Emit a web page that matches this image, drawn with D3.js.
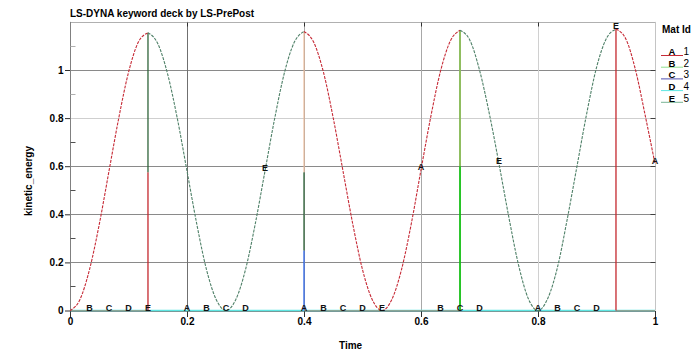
<!DOCTYPE html>
<html><head><meta charset="utf-8">
<script src="https://cdn.jsdelivr.net/npm/d3@7/dist/d3.min.js"></script>
<style>
body{margin:0;background:#fff;}
svg{display:block;font-family:"Liberation Sans",Arial,sans-serif;}
</style></head><body>
<svg id="chart" width="700" height="361"></svg>
<script>
// ---------- data ----------
const title = "LS-DYNA keyword deck by LS-PrePost";
const xLabel = "Time";
const yLabel = "kinetic_energy";
const legendTitle = "Mat Id";
const matIds = [1, 2, 3, 4, 5];
const matLetters = ["A", "B", "C", "D", "E"];
const xTicks = [0, 0.2, 0.4, 0.6, 0.8, 1];
const xTickLabels = ["0", "0.2", "0.4", "0.6", "0.8", "1"];
const yTicks = [0, 0.2, 0.4, 0.6, 0.8, 1];
const yTickLabels = ["0", "0.2", "0.4", "0.6", "0.8", "1"];
const yMinorTicks = [0.1, 0.3, 0.5, 0.7, 0.9, 1.1];
const timeStep = 1 / 60;
// kinetic energy read at each output step
const energy = [
  0, 0.044, 0.17, 0.358, 0.58, 0.8, 0.99, 1.115, 1.155,
  1.11, 0.985, 0.8, 0.58, 0.36, 0.17, 0.045, 0,
  0.045, 0.17, 0.36, 0.58, 0.8, 0.99, 1.115, 1.16,
  1.115, 0.99, 0.8, 0.58, 0.36, 0.17, 0.045, 0,
  0.045, 0.17, 0.36, 0.585, 0.805, 0.995, 1.12, 1.165,
  1.125, 1.0, 0.82, 0.61, 0.39, 0.19, 0.05, 0,
  0.05, 0.18, 0.38, 0.6, 0.82, 1.01, 1.13, 1.17,
  1.13, 1.0, 0.81, 0.61
];
// output-step windows in which each material carries the energy
const activeWindows = {
  1: [[0, 8], [24, 40], [56, 60]],
  2: [],
  3: [],
  4: [],
  5: [[8, 24], [40, 56]]
};
const zeroWindows = {
  1: [[8, 24], [40, 56]],
  2: [[0, 60]],
  3: [[0, 60]],
  4: [[0, 60]],
  5: [[0, 8], [24, 40], [56, 60]]
};
// vertical jumps: [time, from, to, material]
const jumps = [
  [0.1333, 0, 0.575, 1],
  [0.1333, 0.575, 1.155, 5],
  [0.4, 0, 0.25, 3],
  [0.4, 0.25, 0.575, 5],
  [0.4, 0.575, 1.16, 1],
  [0.6667, 0, 1.165, 2],
  [0.6667, 0.6, 1.165, 1],
  [0.9333, 0, 1.17, 1]
];
const labelOffsets = [0, 0.0333, 0.0667, 0.1, 0.1333];
const labelSpacing = 0.2;

// ---------- drawing ----------
const svg = d3.select("#chart");
const x = d3.scaleLinear().domain([0, 1]).range([70, 655]);
const y = d3.scaleLinear().domain([0, 1.2]).range([310.5, 21.9]);
const crisp = v => Math.round(v) + 0.5;

const curveColor = {1: "#c62a36", 2: "#7fdc7f", 3: "#4a4aa8", 4: "#5ee6e2", 5: "#4f8068"};
const legendColor = {1: "#c62a36", 2: "#8fe08f", 3: "#5050b0", 4: "#5ee6e2", 5: "#78b494"};
const zeroColor = {1: "#c62a36", 2: "#8fe08f", 3: "#5050b0", 4: "#5ee6e2", 5: "#8aa898"};

svg.append("rect").attr("width", 700).attr("height", 361).attr("fill", "#fff");

// grid
const hGridColor = v => (Math.abs(v - 0.8) < 1e-6 ? "#cfcfcf" : "#8a8a8a");
const vGridColor = v => (Math.abs(v - 0.2) < 1e-6 ? "#707070" : Math.abs(v - 0.8) < 1e-6 ? "#d0d0d0" : "#a8a8a8");
svg.append("g").selectAll("line").data(yTicks.filter(d => d > 0)).join("line")
  .attr("x1", 70).attr("x2", 655)
  .attr("y1", d => crisp(y(d))).attr("y2", d => crisp(y(d)))
  .attr("stroke", hGridColor).attr("stroke-width", 1);
svg.append("g").selectAll("line").data(xTicks.filter(d => d > 0 && d < 1)).join("line")
  .attr("y1", y(1.2)).attr("y2", y(0))
  .attr("x1", d => crisp(x(d))).attr("x2", d => crisp(x(d)))
  .attr("stroke", vGridColor).attr("stroke-width", 1);

// frame
svg.append("line").attr("x1", 70).attr("x2", 655).attr("y1", crisp(y(1.2))).attr("y2", crisp(y(1.2))).attr("stroke", "#b0b0b0");
svg.append("line").attr("x1", crisp(x(1))).attr("x2", crisp(x(1))).attr("y1", y(1.2)).attr("y2", y(0)).attr("stroke", "#c4c4c4");
svg.append("line").attr("x1", crisp(x(0))).attr("x2", crisp(x(0))).attr("y1", y(1.2)).attr("y2", y(0)).attr("stroke", "#808080");
svg.append("line").attr("x1", 70).attr("x2", 655).attr("y1", crisp(y(0))).attr("y2", crisp(y(0))).attr("stroke", "#808080");

// minor ticks (inside left)
svg.append("g").selectAll("line").data(yMinorTicks).join("line")
  .attr("x1", crisp(x(0))).attr("x2", crisp(x(0)) + 5)
  .attr("y1", d => crisp(y(d))).attr("y2", d => crisp(y(d)))
  .attr("stroke", d => (d > 0.8 ? "#b0b0b0" : "#505050"));
// right inward ticks
svg.append("g").selectAll("line").data(yTicks.filter(d => d > 0)).join("line")
  .attr("x1", crisp(x(1)) - 5).attr("x2", crisp(x(1)))
  .attr("y1", d => crisp(y(d))).attr("y2", d => crisp(y(d)))
  .attr("stroke", "#404040");
// top inward ticks
svg.append("g").selectAll("line").data(xTicks.filter(d => d > 0 && d < 1)).join("line")
  .attr("y1", crisp(y(1.2))).attr("y2", crisp(y(1.2)) + 4)
  .attr("x1", d => crisp(x(d))).attr("x2", d => crisp(x(d)))
  .attr("stroke", "#303030");

// axes
const xAxis = d3.axisBottom(x).tickValues(xTicks).tickFormat((d, i) => xTickLabels[i]).tickSize(6).tickPadding(1);
const gx = svg.append("g").attr("transform", `translate(0,${Math.round(y(0))})`).call(xAxis);
gx.select(".domain").remove();
gx.selectAll(".tick line").attr("stroke", "#303030");
gx.selectAll(".tick text").attr("font-size", 10).attr("font-weight", "bold").attr("fill", "#000")
  .attr("font-family", "Liberation Sans, Arial, sans-serif");

const yAxis = d3.axisLeft(y).tickValues(yTicks).tickFormat((d, i) => yTickLabels[i]).tickSize(5).tickPadding(1.5);
const gy = svg.append("g").attr("transform", `translate(${Math.round(x(0))},0)`).call(yAxis);
gy.select(".domain").remove();
gy.selectAll(".tick line").attr("stroke", "#303030");
gy.selectAll(".tick text").attr("font-size", 10).attr("font-weight", "bold").attr("fill", "#000")
  .attr("font-family", "Liberation Sans, Arial, sans-serif");

// curves
const line = d3.line().x(d => x(d[0])).y(d => y(d[1])).curve(d3.curveMonotoneX);
const seg = (win, zero) => d3.range(win[0], win[1] + 1).map(k => [k * timeStep, zero ? 0 : energy[k]]);

matIds.forEach(m => {
  zeroWindows[m].forEach(w => {
    svg.append("path").attr("d", line(seg(w, true))).attr("fill", "none")
      .attr("stroke", zeroColor[m]).attr("stroke-width", m === 4 ? 1.4 : 1.1);
  });
});

const jumpColor = (m, lo) => m === 1 ? (lo > 0 ? "#eeb894" : "#c4282e") : m === 5 ? "#2f643a" : m === 2 ? "#14bf14" : "#2c64e8";
svg.append("g").selectAll("line").data(jumps).join("line")
  .attr("x1", d => x(d[0])).attr("x2", d => x(d[0]))
  .attr("y1", d => y(d[1])).attr("y2", d => y(d[2]))
  .attr("stroke", d => jumpColor(d[3], d[1]))
  .attr("stroke-opacity", d => (d[3] === 1 && d[1] > 0 ? 0.8 : 1))
  .attr("stroke-width", d => (d[3] === 2 ? 1.8 : 1.3));

matIds.forEach(m => {
  activeWindows[m].forEach(w => {
    svg.append("path").attr("d", line(seg(w, false))).attr("fill", "none")
      .attr("stroke", curveColor[m]).attr("stroke-width", 1.1)
      .attr("stroke-dasharray", "3,1.2");
  });
});

// curve labels
const valueAt = (m, t) => {
  const k = Math.round(t / timeStep);
  const on = activeWindows[m].some(w => k > w[0] && k <= w[1]) || (k === 0 && activeWindows[m].some(w => w[0] === 0));
  return on ? energy[k] : 0;
};
matIds.forEach((m, i) => {
  const pts = d3.range(0, 6).map(j => labelOffsets[i] + j * labelSpacing).filter(t => t > 0.001 && t <= 1.0001);
  svg.append("g").selectAll("text").data(pts).join("text")
    .attr("x", t => x(t)).attr("y", t => y(valueAt(m, t)))
    .attr("text-anchor", "middle").attr("font-size", 9).attr("font-weight", "bold").attr("fill", "#111")
    .text(matLetters[i]);
});

// titles
svg.append("text").attr("x", 70).attr("y", 16.5).attr("font-size", 10).attr("font-weight", "bold").text(title);
svg.append("text").attr("transform", "translate(32,181) rotate(-90)").attr("text-anchor", "middle")
  .attr("font-size", 10).attr("font-weight", "bold").text(yLabel);
svg.append("text").attr("x", 339).attr("y", 349).attr("font-size", 10).attr("font-weight", "bold").text(xLabel);

// legend
svg.append("text").attr("x", 662).attr("y", 33).attr("font-size", 10).attr("font-weight", "bold").text(legendTitle);
const lg = svg.append("g").selectAll("g").data(matIds).join("g")
  .attr("transform", (d, i) => `translate(0,${55 + i * 11.7})`);
lg.append("line").attr("x1", 661).attr("x2", 683).attr("y1", 0.5).attr("y2", 0.5)
  .attr("stroke", d => legendColor[d]).attr("stroke-width", 1);
lg.append("text").attr("x", 672).attr("y", 0).attr("text-anchor", "middle").attr("font-size", 9.5)
  .attr("font-weight", "bold").text((d, i) => matLetters[i]);
lg.append("text").attr("x", 683.5).attr("y", 0).attr("font-size", 10).text(d => d);
</script>
</body></html>
